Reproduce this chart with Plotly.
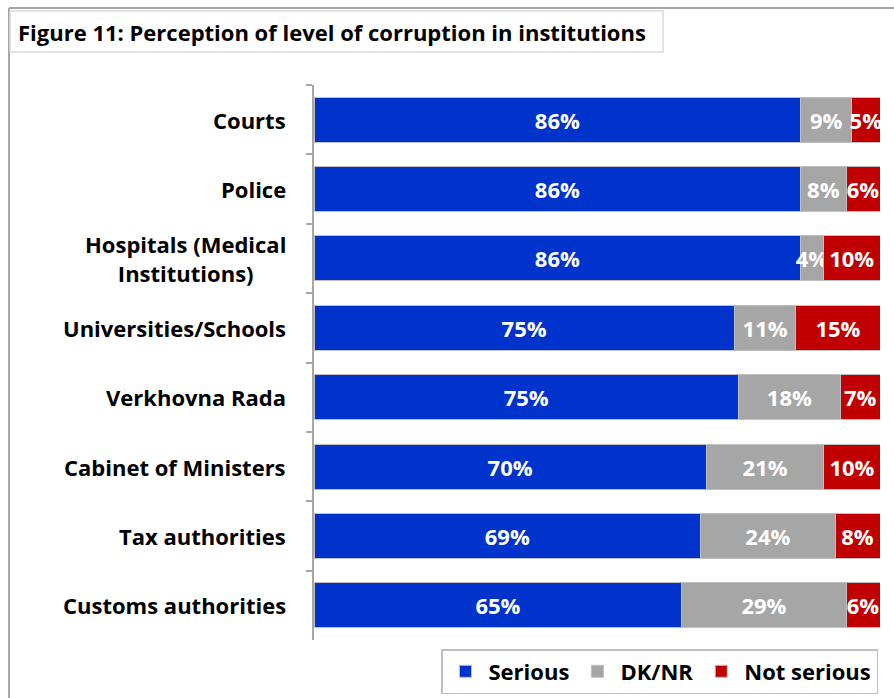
import plotly.graph_objects as go

# Survey shares (%) per institution
categories = [
    "Courts",
    "Police",
    "Hospitals (Medical<br>Institutions)",
    "Universities/Schools",
    "Verkhovna Rada",
    "Cabinet of Ministers",
    "Tax authorities",
    "Customs authorities",
]
serious = [86, 86, 86, 75, 75, 70, 69, 65]
dk_nr = [9, 8, 4, 11, 18, 21, 24, 29]
not_serious = [5, 6, 10, 15, 7, 10, 8, 6]

series = [
    ("Serious", serious, "#0033CC"),
    ("DK/NR", dk_nr, "#A6A6A6"),
    ("Not serious", not_serious, "#C00000"),
]

FONT = "Open Sans"
W, H = 894, 698
L, R, T, B = 314, 14, 85, 58
pw, ph = W - L - R, H - T - B


def px_x(x):
    return (x - L) / pw


def px_y(y):
    return (H - B - y) / ph


fig = go.Figure()
for name, vals, color in series:
    fig.add_trace(go.Bar(
        y=categories,
        x=vals,
        name=name,
        orientation="h",
        marker=dict(color=color, line=dict(color="#BFBFBF", width=1)),
        text=[f"{v}%" for v in vals],
        textposition="inside",
        insidetextanchor="middle",
        textangle=0,
        textfont=dict(family=FONT, size=22, color="white", weight="bold"),
        hoverinfo="skip",
    ))

# Category labels, centred when they wrap over two lines
annotations = [
    dict(
        x=0, xref="paper", y=c, yref="y",
        text=f"<b>{c}</b>", showarrow=False,
        xanchor="right", xshift=-26, align="center",
        font=dict(family=FONT, size=22, color="black"),
    )
    for c in categories
]
annotations.append(dict(
    x=px_x(16), xref="paper", y=px_y(32), yref="paper",
    text="<b>Figure 11: Perception of level of corruption in institutions</b>",
    showarrow=False, xanchor="left", yanchor="middle",
    font=dict(family=FONT, size=22, color="black"),
))

shapes = [
    # outer frame (top and left edges)
    dict(type="line", xref="paper", yref="paper",
         x0=px_x(9), x1=px_x(W), y0=px_y(8), y1=px_y(8),
         line=dict(color="#A6A6A6", width=2)),
    dict(type="line", xref="paper", yref="paper",
         x0=px_x(9), x1=px_x(9), y0=px_y(8), y1=px_y(H),
         line=dict(color="#A6A6A6", width=2)),
    # title box
    dict(type="rect", xref="paper", yref="paper",
         x0=px_x(10), x1=px_x(663), y0=px_y(11), y1=px_y(52),
         line=dict(color="#D9D9D9", width=1.5), fillcolor="white"),
]

fig.update_layout(
    width=W, height=H,
    margin=dict(l=L, r=R, t=T, b=B, autoexpand=False),
    paper_bgcolor="white", plot_bgcolor="white",
    barmode="stack", barnorm="percent", bargap=0.35,
    uniformtext=dict(minsize=22, mode="show"),
    showlegend=True,
    legend=dict(
        orientation="h",
        xref="container", x=878 / W, xanchor="right",
        yref="container", y=1 - 649 / H, yanchor="top",
        bordercolor="#BFBFBF", borderwidth=1.5,
        font=dict(family=FONT, size=22, color="black", weight="bold"),
        itemwidth=36, traceorder="normal",
    ),
    annotations=annotations,
    shapes=shapes,
    xaxis=dict(range=[0, 100], visible=False, fixedrange=True),
    yaxis=dict(
        autorange="reversed", showticklabels=False,
        showline=True, linecolor="#A6A6A6", linewidth=1.5,
        ticks="outside", ticklen=6, tickcolor="#A6A6A6", tickwidth=1.5,
        tickson="boundaries", showgrid=False,
    ),
)

fig.write_html("out.html")
